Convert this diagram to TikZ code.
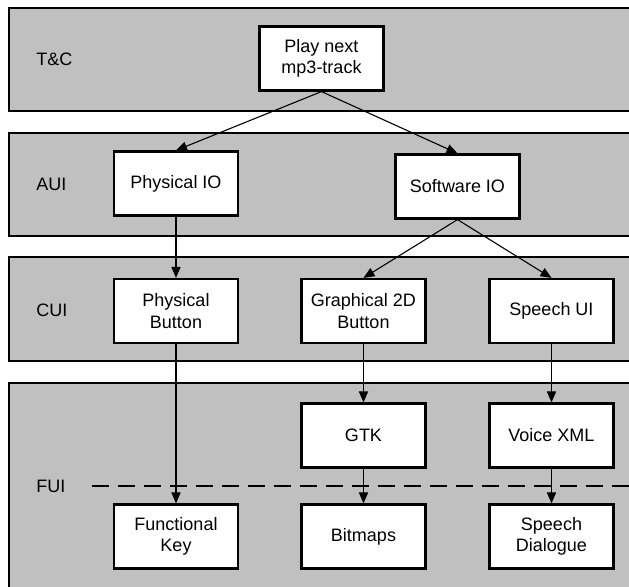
\documentclass[tikz,border=0pt]{standalone}
\usepackage{fontspec}
\setmainfont{Liberation Sans}
\usetikzlibrary{arrows.meta}
\definecolor{bandgray}{HTML}{C0C0C0}
\tikzstyle{layer} = [draw, fill=bandgray, line width=1.1pt]
\tikzstyle{block} = [draw, fill=white, line width=1.1pt, minimum width=62pt, minimum height=32pt, align=center, inner sep=1pt, font=\fontsize{9}{10.8}\selectfont]
\tikzstyle{layername} = [anchor=west, inner sep=0pt, font=\fontsize{9}{10.8}\selectfont]
\tikzstyle{flow} = [-{Triangle[length=5.5pt,width=4.6pt]}, line width=0.55pt]

\begin{document}
\begin{tikzpicture}[x=0.5pt,y=-0.5pt]
    \useasboundingbox (0,0) rectangle (629,587);
    \clip (0,0) rectangle (629,587);
    % layers
    \draw[layer] (9,8) rectangle (660,111);
    \draw[layer] (9,133) rectangle (660,236);
    \draw[layer] (9,257) rectangle (660,361);
    \draw[layer] (9,383) rectangle (660,610);
    \draw (36,59) node[layername] (tc) {T\&C};
    \draw (36,184) node[layername] (aui) {AUI};
    \draw (36,310) node[layername] (cui) {CUI};
    \draw (36,486) node[layername] (fui) {FUI};
    \coordinate (cutl) at (92,486);
    \coordinate (cutr) at (660,486);
    \draw[line width=1pt, dash pattern=on 8.3pt off 4.7pt] (cutl) -- (cutr);
    % blocks
    \draw (321.5,58.5) node[block] (play) {Play next\\mp3-track};
    \draw (176,183.5) node[block] (physio) {Physical IO};
    \draw (457.5,186.5) node[block] (softio) {Software IO};
    \draw (176,311) node[block] (physbtn) {Physical\\Button};
    \draw (363.5,311) node[block] (gfxbtn) {Graphical 2D\\Button};
    \draw (551.5,311) node[block] (speechui) {Speech UI};
    \draw (363.5,435.5) node[block] (gtk) {GTK};
    \draw (551.5,435.5) node[block] (vxml) {Voice XML};
    \draw (176,536.5) node[block] (fkey) {Functional\\Key};
    \draw (363.5,536.5) node[block] (bitmaps) {Bitmaps};
    \draw (551.5,536.5) node[block] (dialogue) {Speech\\Dialogue};
    % arrows
    \draw[flow] (play.south) -- (physio.north);
    \draw[flow] (play.south) -- (softio.north);
    \draw[flow] (physio) -- (physbtn);
    \draw[flow] (softio.south) -- (gfxbtn.north);
    \draw[flow] (softio.south) -- (speechui.north);
    \draw[flow] (physbtn) -- (fkey);
    \draw[flow] (gfxbtn) -- (gtk);
    \draw[flow] (speechui) -- (vxml);
    \draw[flow] (gtk) -- (bitmaps);
    \draw[flow] (vxml) -- (dialogue);
\end{tikzpicture}
\end{document}
